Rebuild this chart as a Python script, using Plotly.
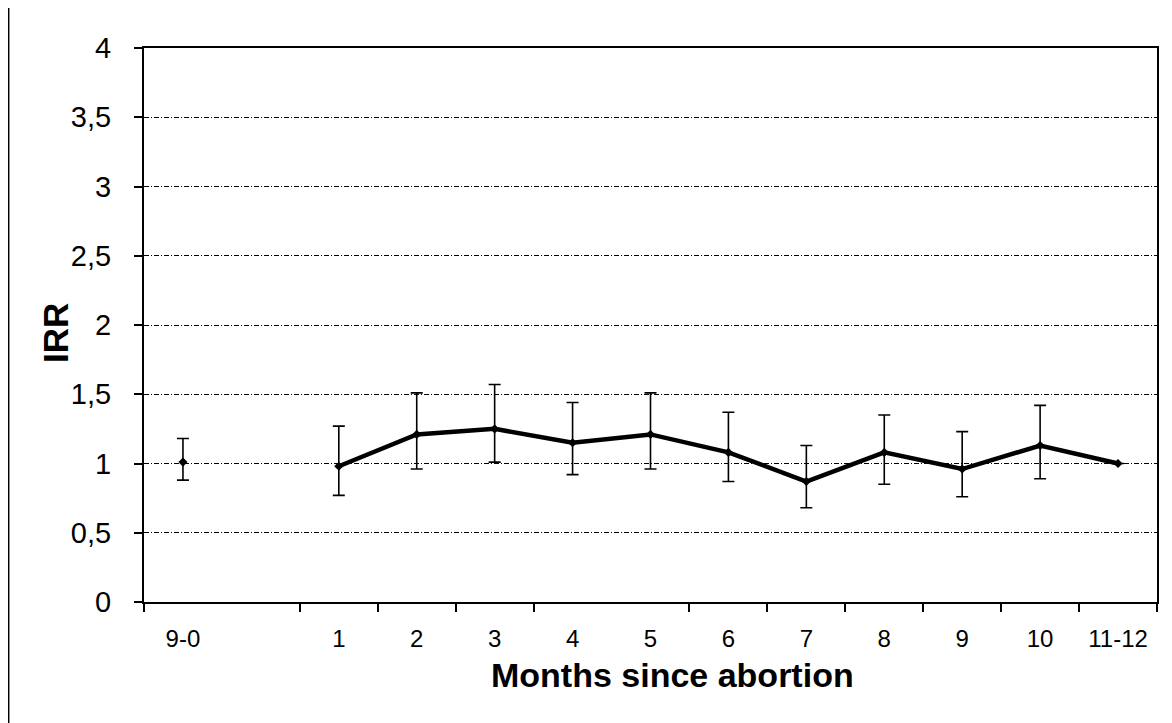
import plotly.graph_objects as go

# ---- data ----
categories = ["9-0", "", "1", "2", "3", "4", "5", "6", "7", "8", "9", "10", "11-12"]
irr = [1.01, None, 0.98, 1.21, 1.25, 1.15, 1.21, 1.08, 0.87, 1.08, 0.96, 1.13, 1.00]
ci_upper = [1.18, None, 1.27, 1.51, 1.57, 1.44, 1.51, 1.37, 1.13, 1.35, 1.23, 1.42, None]
ci_lower = [0.88, None, 0.77, 0.96, 1.01, 0.92, 0.96, 0.87, 0.68, 0.85, 0.76, 0.89, None]
y_ticks = [0, 0.5, 1, 1.5, 2, 2.5, 3, 3.5, 4]
y_tick_text = ["0", "0,5", "1", "1,5", "2", "2,5", "3", "3,5", "4"]
x_title = "Months since abortion"
y_title = "IRR"
# category boundaries that carry a tick mark in the reference
x_boundary_ticks = [-0.5, 1.5, 2.5, 3.5, 4.5, 6.5, 7.5, 8.5, 9.5, 10.5, 11.5, 12.5]

x_pos = list(range(len(categories)))
err_plus = [(u - v) if (u is not None and v is not None) else float("nan") for u, v in zip(ci_upper, irr)]
err_minus = [(v - l) if (l is not None and v is not None) else float("nan") for l, v in zip(ci_lower, irr)]

FONT = "Liberation Sans, Arial, sans-serif"

# page body has an 8px margin, so the figure is sized to fit inside it
W, H = 1164, 715
ML, MR, MT, MB = 136, 15, 40, 121
PW, PH = W - ML - MR, H - MT - MB


def px_x(p):  # page-pixel x -> paper
    return (p - 8 - ML) / PW


def px_y(p):  # page-pixel y -> paper
    return (MT + PH - (p - 8)) / PH


fig = go.Figure()
fig.add_trace(go.Scatter(
    x=x_pos,
    y=irr,
    mode="lines+markers",
    connectgaps=False,
    line=dict(color="black", width=4.5),
    marker=dict(symbol="diamond", size=7, color="black"),
    error_y=dict(type="data", symmetric=False, array=err_plus, arrayminus=err_minus,
                 color="black", thickness=1.6, width=6),
    showlegend=False,
    hoverinfo="skip",
))

# left border line of the original figure frame (at the very left edge of the figure)
fig.add_shape(type="line", xref="paper", yref="paper",
              x0=px_x(8.7), x1=px_x(8.7), y0=px_y(5), y1=px_y(723),
              line=dict(color="black", width=1.5))

fig.add_annotation(text="<b>" + x_title + "</b>", xref="paper", yref="paper",
                   x=px_x(672), y=px_y(675), xanchor="center", yanchor="middle",
                   showarrow=False, font=dict(size=34, family=FONT, color="black"))
fig.add_annotation(text="<b>" + y_title + "</b>", xref="paper", yref="paper",
                   x=px_x(55), y=px_y(333), xanchor="center", yanchor="middle",
                   textangle=-90, showarrow=False,
                   font=dict(size=35, family=FONT, color="black"))

fig.update_layout(
    width=W, height=H,
    margin=dict(l=ML, r=MR, t=MT, b=MB, autoexpand=False),
    paper_bgcolor="white", plot_bgcolor="white",
    font=dict(family=FONT, color="black"),
    showlegend=False,
)

fig.update_xaxes(
    range=[-0.5, 12.5],
    tickmode="array", tickvals=x_pos, ticktext=categories,
    ticks="", showgrid=False, zeroline=False,
    showline=True, linecolor="black", linewidth=2, mirror=True,
    tickfont=dict(size=24, family=FONT, color="black"),
    ticklabelstandoff=14,
    minor=dict(tickmode="array", tickvals=x_boundary_ticks, ticks="outside",
               ticklen=8, tickwidth=1.5, tickcolor="black", showgrid=False),
)

fig.update_yaxes(
    range=[0, 4],
    tickmode="array", tickvals=y_ticks, ticktext=y_tick_text,
    ticks="outside", ticklen=8, tickwidth=1.5, tickcolor="black",
    showgrid=True, gridcolor="black", gridwidth=1, griddash="5px,2px,1px,2px",
    zeroline=False,
    showline=True, linecolor="black", linewidth=2, mirror=True,
    tickfont=dict(size=29, family=FONT, color="black"),
    ticklabelstandoff=17,
)

fig.write_html("out.html")
